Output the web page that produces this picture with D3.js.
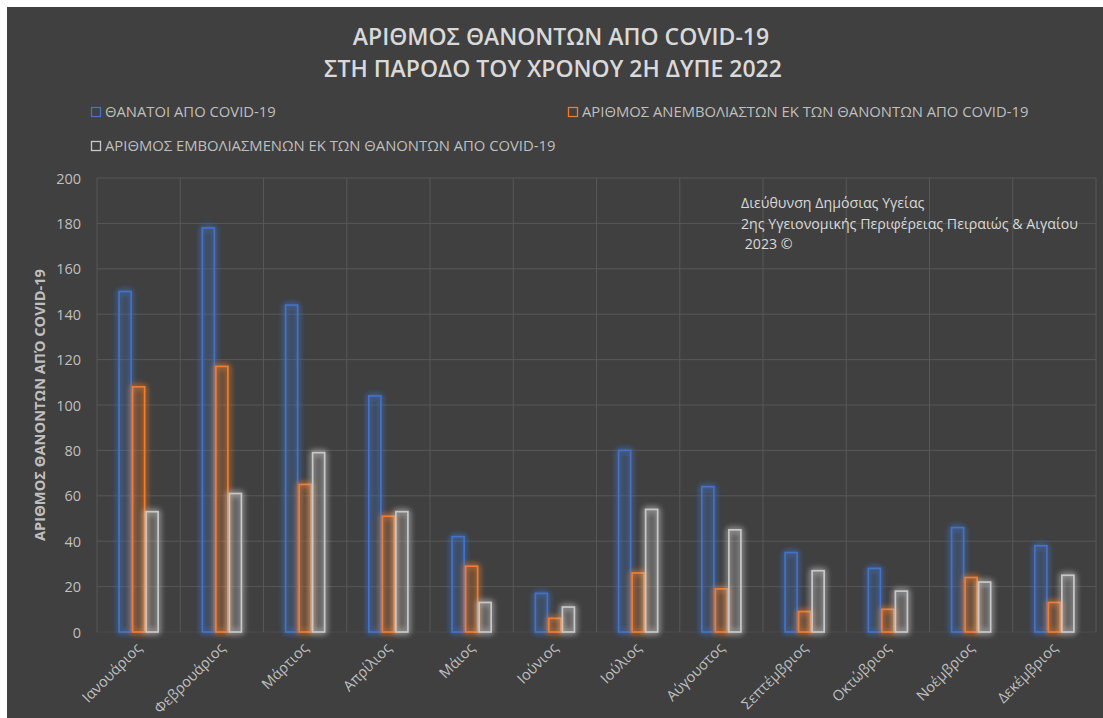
<!DOCTYPE html>
<html><head><meta charset="utf-8">
<script src="https://cdn.jsdelivr.net/npm/d3@7"></script>
<style>
html,body{margin:0;padding:0;background:#fff;}
svg{display:block;}
text{font-family:"Open Sans","Noto Sans",sans-serif;}
</style></head>
<body>
<svg id="chart" width="1103" height="718"></svg>
<script>
const months = ["Ιανουάριος","Φεβρουάριος","Μάρτιος","Απρίλιος","Μάιος","Ιούνιος","Ιούλιος","Αύγουστος","Σεπτέμβριος","Οκτώβριος","Νοέμβριος","Δεκέμβριος"];
const seriesNames = ["ΘΑΝΑΤΟΙ ΑΠΟ COVID-19","ΑΡΙΘΜΟΣ ΑΝΕΜΒΟΛΙΑΣΤΩΝ ΕΚ ΤΩΝ ΘΑΝΟΝΤΩΝ ΑΠΟ COVID-19","ΑΡΙΘΜΟΣ ΕΜΒΟΛΙΑΣΜΕΝΩΝ ΕΚ ΤΩΝ ΘΑΝΟΝΤΩΝ ΑΠΟ COVID-19"];
const deaths = [150,178,144,104,42,17,80,64,35,28,46,38];
const unvaccinated = [108,117,65,51,29,6,26,19,9,10,24,13];
const vaccinated = [53,61,79,53,13,11,54,45,27,18,22,25];
const yTicks = [0,20,40,60,80,100,120,140,160,180,200];
const titleLines = ["ΑΡΙΘΜΟΣ ΘΑΝΟΝΤΩΝ ΑΠΟ COVID-19","ΣΤΗ ΠΑΡΟΔΟ ΤΟΥ ΧΡΟΝΟΥ 2Η ΔΥΠΕ 2022"];
const yTitle = "ΑΡΙΘΜΟΣ ΘΑΝΟΝΤΩΝ ΑΠΌ COVID-19";
const noteLines = ["Διεύθυνση Δημόσιας Υγείας","2ης Υγειονομικής Περιφέρειας Πειραιώς & Αιγαίου"," 2023 ©"];
const colors = ["#4472c4","#ed7d31","#c8c8c8"];

const series = [deaths, unvaccinated, vaccinated];
const svg = d3.select("#chart");
svg.append("rect").attr("x",7).attr("y",7).attr("width",1096).attr("height",711).attr("fill","#404040");

const defs = svg.append("defs");
colors.forEach((c,i)=>{
  const f = defs.append("filter").attr("id","glow"+i).attr("x","-50%").attr("y","-20%").attr("width","200%").attr("height","140%");
  f.append("feGaussianBlur").attr("in","SourceGraphic").attr("stdDeviation",3).attr("result","b");
  const m = f.append("feMerge");
  m.append("feMergeNode").attr("in","b");
  m.append("feMergeNode").attr("in","b");
  m.append("feMergeNode").attr("in","SourceGraphic");
});

const L=97, R=1096, T=178, B=632;
const x = d3.scaleBand().domain(months).range([L,R]).paddingInner(0).paddingOuter(0);
const y = d3.scaleLinear().domain([0,200]).range([B,T]);
const groupW = x.bandwidth()*0.487;
const x1 = d3.scaleBand().domain([0,1,2]).range([0,groupW]);

// gridlines
const g = svg.append("g");
g.selectAll("line.h").data(yTicks).join("line")
  .attr("x1",L).attr("x2",R).attr("y1",d=>y(d)).attr("y2",d=>y(d))
  .attr("stroke",d=>d===0?"#4a4a4a":"#575757").attr("stroke-width",1);
g.selectAll("line.v").data(months.concat(["__end"])).join("line")
  .attr("x1",(d,i)=>i<months.length?x(d):R).attr("x2",(d,i)=>i<months.length?x(d):R)
  .attr("y1",T).attr("y2",B).attr("stroke","#575757").attr("stroke-width",1);

// y axis
const yAxis = d3.axisLeft(y).tickValues(yTicks).tickSize(0).tickPadding(0);
const ya = svg.append("g").attr("transform",`translate(81,0)`).call(yAxis);
ya.select(".domain").remove();
ya.selectAll("text").attr("fill","#bfbfbf").style("font-size","14.5px").attr("text-anchor","end").attr("dy","0.35em");

// x axis labels
const xa = svg.append("g");
xa.selectAll("text").data(months).join("text")
  .attr("transform",d=>`translate(${x(d)+x.bandwidth()/2+4},${B+17}) rotate(-45)`)
  .attr("text-anchor","end").attr("fill","#bfbfbf").style("font-size","14.6px").text(d=>d);

// bars
series.forEach((vals,si)=>{
  svg.append("g").attr("filter",`url(#glow${si})`)
    .selectAll("rect").data(vals).join("rect")
    .attr("x",(d,i)=>x(months[i])+(x.bandwidth()-groupW)/2+x1(si)+0.75)
    .attr("y",d=>y(d))
    .attr("width",x1.bandwidth()-1.5)
    .attr("height",d=>B-y(d))
    .attr("fill",colors[si]).attr("fill-opacity",0.05)
    .attr("stroke",colors[si]).attr("stroke-width",1.7);
});

// title
const titleX = [561, 553];
svg.append("g").selectAll("text").data(titleLines).join("text")
  .attr("x",(d,i)=>titleX[i]).attr("y",(d,i)=>45+i*32).attr("text-anchor","middle")
  .attr("fill","#d9d9d9").style("font-size","23px").style("font-weight","600").text(d=>d);

// legend
const legPos = [[91,117],[568,117],[91,151]];
const lg = svg.append("g");
seriesNames.forEach((n,i)=>{
  const [lx,ly]=legPos[i];
  lg.append("rect").attr("x",lx+0.5).attr("y",ly-9.5).attr("width",9).attr("height",9)
    .attr("fill","none").attr("stroke",colors[i]).attr("stroke-width",1.3);
  lg.append("text").attr("x",lx+14).attr("y",ly).attr("fill","#bfbfbf").style("font-size","14.8px").text(n);
});

// y title
svg.append("text").attr("transform",`translate(45,${(T+B)/2}) rotate(-90)`)
  .attr("text-anchor","middle").attr("fill","#bfbfbf").style("font-size","14px").style("font-weight","700")
  .attr("textLength",272).attr("lengthAdjust","spacingAndGlyphs").text(yTitle);

// note
svg.append("g").selectAll("text").data(noteLines).join("text")
  .attr("x",741).attr("y",(d,i)=>208+i*20.5).attr("fill","#d9d9d9").style("font-size","14.2px")
  .attr("xml:space","preserve").style("white-space","pre").text(d=>d);
</script>
</body></html>
